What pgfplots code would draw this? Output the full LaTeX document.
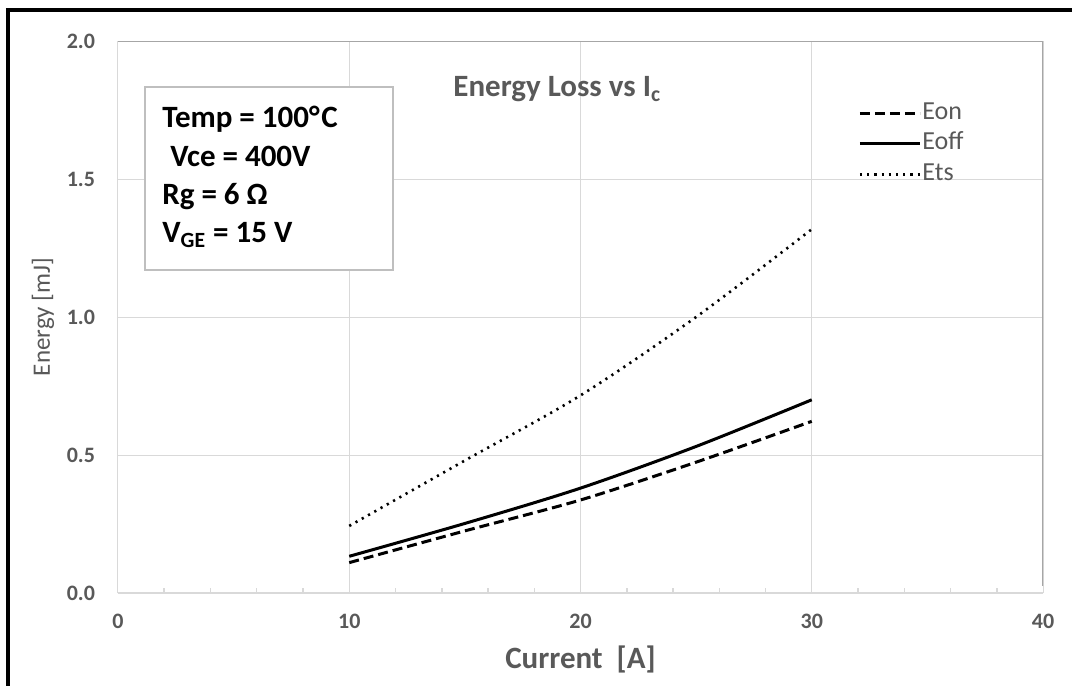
\documentclass[border=0pt]{standalone}
\usepackage{fontspec}
\setmainfont{Carlito}
\usepackage{pgfplots}
\pgfplotsset{compat=1.18}
\definecolor{txtgray}{HTML}{595959}
\definecolor{gridgray}{HTML}{D9D9D9}
\definecolor{axgray}{HTML}{A6A6A6}
\definecolor{boxgray}{HTML}{BFBFBF}
\begin{document}
\begin{tikzpicture}
\fill[white] (-59pt,-46.5pt) rectangle (477pt,296.5pt);
\useasboundingbox (-59pt,-46.5pt) rectangle (477pt,296.5pt);
\begin{axis}[
  at={(0,0)}, anchor=south west,
  scale only axis, width=462.5pt, height=276pt,
  xmin=0, xmax=40, ymin=0, ymax=2,
  xtick={0,10,20,30,40}, ytick={0,0.5,1,1.5,2},
  minor x tick num=4,
  xtick pos=bottom, ytick pos=left,
  tick align=inside,
  major tick length=0pt, minor tick length=2.5pt,
  minor tick style={gridgray, line width=0.75pt},
  grid=major, major grid style={gridgray, line width=0.5pt},
  axis line style={draw=none},
  /pgf/number format/assume math mode=true,
  tick label style={font=\fontsize{11}{13}\selectfont\bfseries, text=txtgray},
  xticklabel style={yshift=-7pt},
  yticklabel style={xshift=-8pt, /pgf/number format/.cd, fixed, fixed zerofill, precision=1},
  xlabel={Current~~[A]},
  ylabel={Energy [mJ]},
  every axis x label/.style={at={(axis description cs:0.5,-0.1359)}, anchor=base, font=\fontsize{15.5}{18}\selectfont\bfseries, text=txtgray},
  every axis y label/.style={at={(axis description cs:-0.081,0.5)}, anchor=center, rotate=90, font=\fontsize{12.5}{15}\selectfont, text=txtgray},
  legend style={at={(axis description cs:0.8,0.893)}, anchor=north west, draw=none, fill=none,
    font=\fontsize{13}{15}\selectfont, text=txtgray, row sep=2.2pt, inner sep=0pt,
    nodes={inner sep=0.5pt, text height=9pt, text depth=3pt}},
  legend cell align=left,
  legend image code/.code={\draw[#1] (0pt,0pt) -- (30pt,0pt);},
]
\addplot[black, line width=1.5pt, dash pattern=on 5pt off 2.5pt, smooth] coordinates {
 (10,0.11) (15,0.225) (20,0.337) (25,0.474) (30,0.622)};
\addlegendentry{Eon}
\addplot[black, line width=1.5pt, smooth] coordinates {
 (10,0.133) (15,0.252) (20,0.38) (25,0.531) (30,0.70)};
\addlegendentry{Eoff}
\addplot[black, line width=1.3pt, dash pattern=on 1.1pt off 2.5pt, smooth] coordinates {
 (10,0.243) (15,0.48) (20,0.716) (25,1.0) (30,1.318)};
\addlegendentry{Ets}
\draw[axgray, line width=1pt] (rel axis cs:0,1) -- (rel axis cs:1,1) -- (rel axis cs:1,0.012);
\draw[gridgray, line width=1pt] (rel axis cs:0,0) -- (rel axis cs:1,0);
\end{axis}
% text box
\draw[boxgray, line width=0.75pt, fill=white] (13.5pt,161.5pt) rectangle (137.5pt,253pt);
\begin{scope}[every node/.style={anchor=base west, inner sep=0pt, font=\fontsize{15.5}{18}\selectfont\bfseries, text=black}]
\node at (22pt,232.5pt) {Temp = 100°\kern0.8pt C};
\node at (26pt,213pt) {Vce = 400V};
\node at (22pt,194pt) {Rg = 6 Ω};
\node at (22pt,175pt) {V\textsubscript{GE} = 15 V};
\end{scope}
% title
\node[anchor=base west, inner sep=0pt, text=txtgray, font=\fontsize{15.5}{18}\selectfont\bfseries] at (167.5pt,248pt) {Energy Loss vs I\textsubscript{c}};
% outer frame
\draw[black, line width=2pt] (-55pt,-50pt) -- (-55pt,291.5pt);
\draw[black, line width=2pt] (-56pt,291.5pt) -- (485pt,291.5pt);
\end{tikzpicture}
\end{document}
